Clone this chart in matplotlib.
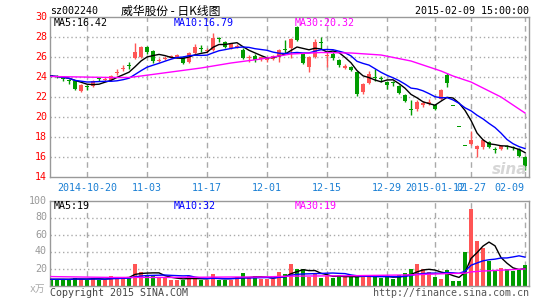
import numpy as np
import pandas as pd
import matplotlib
matplotlib.use('Agg')
import matplotlib.pyplot as plt

W, H = 545, 300

# ---- data (80 trading days) ----
tick_idx = [6, 16, 26, 36, 46, 56, 64, 70, 79]
tick_labels = ['2014-10-20', '11-03', '11-17', '12-01', '12-15', '12-29',
               '2015-01-12', '01-27', '02-09']

opens = [24.15, 24.05, 23.85, 23.65, 23.6, 22.6, 23.05, 23.1, 23.85, 23.75,
         23.7, 24.45, 24.85, 25.15, 25.9, 26.0, 27.0, 26.6, 25.65, 25.8,
         25.95, 26.0, 26.0, 25.5, 26.4, 26.85, 26.6, 26.7, 27.85, 27.5,
         26.9, 27.0, 26.7, 25.9, 26.1, 25.8, 25.7, 25.8, 26.0, 26.75,
         26.9, 29.0, 26.3, 25.0, 26.0, 27.45, 26.15, 26.3, 25.7, 24.9,
         25.0, 24.5, 22.5, 23.4, 23.95, 23.85, 23.5, 23.45, 23.1, 22.2,
         20.75, 20.8, 21.2, 21.35, 21.2, 21.8, 24.2, 21.1, 19.0, 17.1,
         17.3, 16.8, 17.0, 17.5, 16.75, 16.8, 17.05, 16.95, 16.8, 16.0]
closes = [24.1, 24.0, 23.8, 23.6, 22.8, 23.2, 23.0, 23.6, 23.8, 23.8,
          24.1, 24.5, 24.9, 25.1, 26.5, 27.0, 26.5, 25.6, 25.7, 25.9,
          26.1, 26.2, 25.4, 26.4, 27.0, 26.8, 26.75, 27.9, 27.8, 27.0,
          27.3, 27.15, 25.9, 26.0, 25.7, 26.0, 25.95, 26.1, 26.7, 26.7,
          27.8, 27.7, 25.4, 26.0, 27.5, 27.4, 26.2, 25.9, 25.2, 25.1,
          24.7, 22.3, 23.3, 24.3, 23.9, 23.8, 23.2, 23.4, 22.4, 21.6,
          20.7, 21.5, 21.4, 21.5, 20.8, 22.7, 23.4, 21.1, 19.0, 17.1,
          17.7, 17.1, 17.7, 17.0, 16.7, 17.1, 17.0, 16.9, 16.1, 15.1]
highs = [24.2, 24.2, 24.0, 23.8, 23.7, 23.3, 23.2, 23.7, 24.0, 24.0,
         24.2, 24.8, 25.2, 25.5, 27.4, 27.1, 27.1, 26.7, 25.9, 26.1,
         26.2, 26.3, 26.1, 26.5, 27.3, 27.2, 26.9, 28.4, 28.0, 27.6,
         27.4, 27.3, 26.9, 26.2, 26.3, 26.1, 26.0, 26.2, 26.8, 27.7,
         27.9, 29.1, 26.4, 26.1, 27.8, 28.0, 26.5, 26.5, 25.8, 25.3,
         25.1, 24.6, 23.4, 24.6, 24.8, 24.1, 23.6, 23.6, 23.2, 22.3,
         21.7, 21.7, 21.6, 21.8, 21.3, 22.8, 24.4, 21.1, 19.0, 17.1,
         18.6, 17.2, 17.8, 17.6, 17.0, 17.2, 17.2, 17.1, 16.9, 16.1]
lows = [24.0, 23.9, 23.6, 23.3, 22.7, 22.5, 22.7, 23.0, 23.6, 23.6,
        23.6, 24.2, 24.6, 24.8, 25.8, 25.9, 26.3, 25.4, 25.5, 25.7,
        25.9, 25.9, 25.3, 25.4, 26.3, 26.5, 26.4, 26.6, 27.5, 26.9,
        26.8, 26.9, 25.8, 25.5, 25.5, 25.6, 25.5, 25.7, 25.5, 26.4,
        25.9, 27.6, 25.3, 24.5, 25.9, 26.8, 25.0, 25.7, 25.0, 24.8,
        24.6, 22.1, 22.3, 23.3, 23.6, 23.5, 22.8, 23.1, 22.3, 21.5,
        20.2, 20.6, 21.0, 21.2, 20.7, 21.7, 23.0, 21.1, 19.0, 17.1,
        17.2, 16.0, 16.8, 16.9, 16.4, 16.7, 16.8, 16.7, 16.0, 14.7]
volumes = [7.3, 7.3, 7.3, 7.0, 9.2, 7.3, 7.0, 9.0, 7.0, 7.0,
           11.0, 10.0, 10.0, 9.0, 25.3, 16.3, 12.4, 11.2, 9.0, 9.0,
           7.0, 7.0, 7.0, 11.0, 9.0, 6.0, 6.0, 13.5, 7.0, 7.0,
           7.0, 9.5, 14.7, 8.5, 11.3, 7.6, 7.6, 7.6, 15.9, 13.1,
           25.3, 19.4, 19.4, 10.4, 13.5, 9.2, 11.2, 9.2, 12.0, 10.4,
           9.8, 9.8, 12.4, 11.2, 10.4, 9.2, 10.4, 8.0, 12.4, 14.8,
           19.4, 25.3, 19.4, 16.3, 10.4, 7.6, 18.2, 5.7, 5.7, 39.4,
           90.0, 52.3, 44.5, 29.2, 17.4, 21.0, 19.0, 17.4, 19.0, 24.0]

# 30-day averages (earlier history is off-screen)
ma30_idx = [0, 5, 10, 13, 15, 20, 25, 30, 35, 40, 45, 50, 55, 60, 65, 67, 70, 75, 79]
ma30_price = [24.05, 24.0, 23.95, 23.95, 24.1, 24.5, 24.9, 25.4, 25.8, 26.3,
              26.45, 26.4, 26.2, 25.6, 24.6, 24.1, 23.5, 22.0, 20.4]
vol_ma30_idx = [0, 10, 20, 30, 35, 40, 50, 60, 66, 69, 70, 72, 75, 79]
vol_ma30 = [10.5, 9.5, 9.5, 10.0, 10.0, 11.0, 11.5, 12.5, 14.0, 14.5, 16.0, 17.0, 18.0, 19.5]

# ---- styling ----
RED = '#ff5555'
GREEN = '#009c00'
GRID = '#aaaaaa'
MONO = 'DejaVu Sans Mono'
CJK = ['Noto Sans CJK SC', 'DejaVu Sans']
FS = 7.2


def fx(x):
    return x / W


def fy(y):
    return 1 - y / H


df = pd.DataFrame({'open': opens, 'close': closes, 'high': highs,
                   'low': lows, 'vol': volumes})
x = np.arange(len(df))
up = df['close'] > df['open']
colors = np.where(up, RED, GREEN)
ma5 = df['close'].rolling(5, min_periods=1).mean()
ma10 = df['close'].rolling(10, min_periods=1).mean()
vma5 = df['vol'].rolling(5, min_periods=1).mean()
vma10 = df['vol'].rolling(10, min_periods=1).mean()

fig = plt.figure(figsize=(W / 100, H / 100), dpi=100)
fig.patch.set_facecolor('white')

# main panel: pixel box 50..529 x 17..177
ax = fig.add_axes([fx(50), fy(177), fx(529) - fx(50), (177 - 17) / H])
# volume panel: pixel box 50..529 x 200.5..285.5
axv = fig.add_axes([fx(50), fy(285.5), fx(529) - fx(50), (285.5 - 200.5) / H])

xmin, xmax = -1 / 6, (529 - 51) / 6
for a in (ax, axv):
    a.set_xlim(xmin, xmax)
    a.set_xticks([])
    a.set_yticks([])
    for s in a.spines.values():
        s.set_color('#999999')
        s.set_linewidth(1)
    for t in tick_idx:
        a.axvline(t, color=GRID, lw=1, ls=(0, (4, 3)), zorder=0)

# price grid
ax.set_ylim(14, 30)
for v in range(16, 30, 2):
    ax.axhline(v, color=GRID, lw=1, ls=(0, (1, 2)), zorder=0)
for v in range(14, 31, 2):
    fig.text(fx(47), fy(177 - (v - 14) * 10), str(v), color='#ff0000',
             fontsize=FS, family=MONO, ha='right', va='center')

# candles
body_lo = np.minimum(df['open'], df['close'])
body_h = np.maximum((df['close'] - df['open']).abs(), 0.08)
ax.vlines(x, df['low'], df['high'], colors=colors, lw=1, zorder=2)
ax.bar(x, body_h, bottom=body_lo, width=0.8, color=colors, lw=0, zorder=3)

ax.plot(x, ma5, color='black', lw=1, zorder=4)
ax.plot(x, ma10, color='#0000ff', lw=1, zorder=4)
ax.plot(ma30_idx, ma30_price, color='#ff00ff', lw=1, zorder=4)

# volume
axv.set_ylim(0, 100)
for v in range(20, 100, 20):
    axv.axhline(v, color=GRID, lw=1, ls=(0, (1, 2)), zorder=0)
for v in range(20, 101, 20):
    fig.text(fx(47), fy(285.5 - v * 0.85), str(v), color='#999999',
             fontsize=FS, family=MONO, ha='right', va='center')
fig.text(fx(45), fy(289), 'x万', color='#aaaaaa', fontsize=7,
         family=[MONO, 'Noto Sans CJK SC'], ha='right', va='center')

axv.bar(x, df['vol'], width=0.8, color=colors, lw=0, zorder=2)
axv.plot(x, vma5, color='black', lw=1, zorder=4)
axv.plot(x, vma10, color='#0000ff', lw=1, zorder=4)
axv.plot(vol_ma30_idx, vol_ma30, color='#ff00ff', lw=1, zorder=4)

# date labels (last one kept inside the frame, as on the original)
for t, lab in zip(tick_idx, tick_labels):
    if t == tick_idx[-1]:
        fig.text(fx(524), fy(188), lab, color='#1a7fd4', fontsize=FS,
                 family=MONO, ha='right', va='center')
    else:
        fig.text(fx(51 + 6 * t), fy(188), lab, color='#1a7fd4', fontsize=FS,
                 family=MONO, ha='center', va='center')

# headers
fig.text(fx(50), fy(11), 'sz002240', fontsize=FS, family=MONO, va='center')
fig.text(fx(121), fy(11), '威华股份 - 日K线图', fontsize=8.5, family=CJK,
         va='center')
fig.text(fx(529), fy(11), '2015-02-09 15:00:00', fontsize=FS, family=MONO,
         ha='right', va='center')

fig.text(fx(54), fy(23.5), 'MA5:16.42', fontsize=FS, family=MONO, va='center')
fig.text(fx(174), fy(23.5), 'MA10:16.79', fontsize=FS, family=MONO,
         color='#0000ff', va='center')
fig.text(fx(295), fy(23.5), 'MA30:20.32', fontsize=FS, family=MONO,
         color='#ff00ff', va='center')
fig.text(fx(54), fy(206), 'MA5:19', fontsize=FS, family=MONO, va='center')
fig.text(fx(174), fy(206), 'MA10:32', fontsize=FS, family=MONO,
         color='#0000ff', va='center')
fig.text(fx(295), fy(206), 'MA30:19', fontsize=FS, family=MONO,
         color='#ff00ff', va='center')

# sina watermark
fig.text(fx(510), fy(170), 'sina', fontsize=11, fontweight='bold',
         style='italic', color='#d6d6d6', ha='center', va='center', zorder=1)

# footer
fig.text(fx(50), fy(292.5), 'Copyright 2015 SINA.COM', fontsize=FS,
         family=MONO, color='#444444', va='center')
fig.text(fx(529), fy(292.5), 'http://finance.sina.com.cn', fontsize=FS,
         family=MONO, color='#555555', ha='right', va='center')

fig.savefig('out.png', dpi=100, facecolor='white')
